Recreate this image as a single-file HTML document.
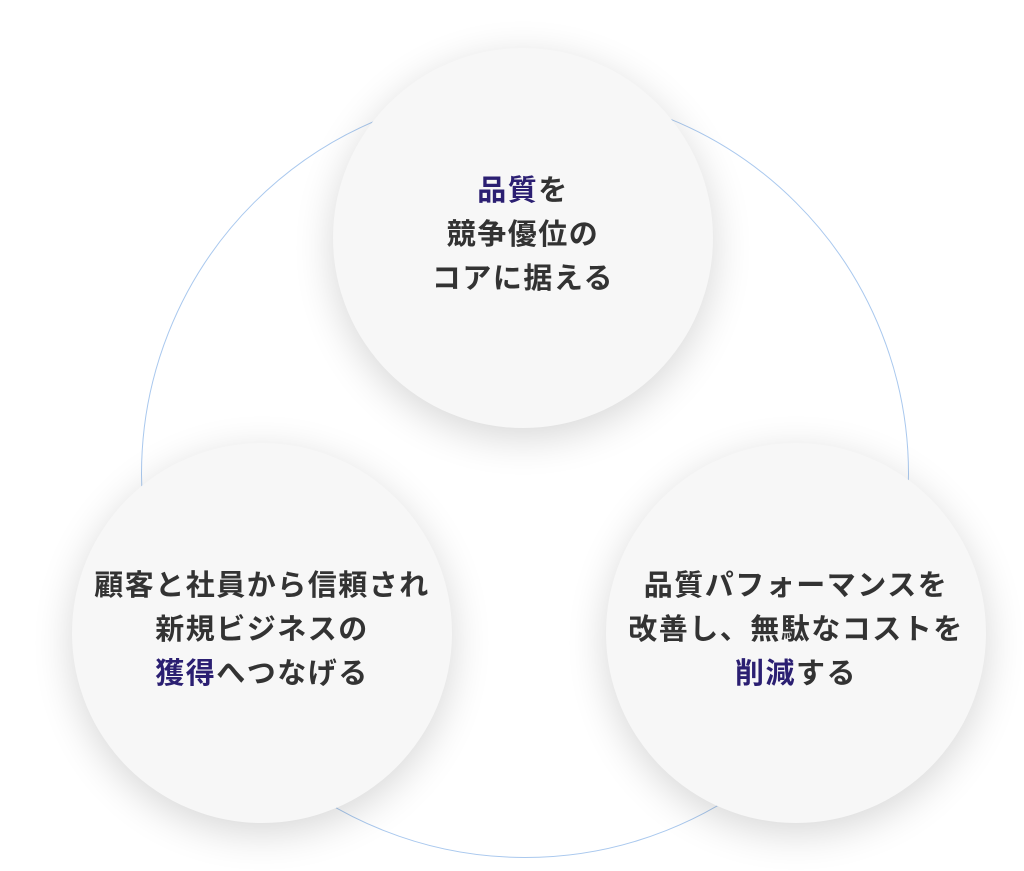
<!DOCTYPE html>
<html><head><meta charset="utf-8"><style>
html,body{margin:0;padding:0;background:#fff;}
body{width:1024px;height:871px;position:relative;overflow:hidden;font-family:"Liberation Sans","Noto Sans CJK JP",sans-serif;}
.ring{position:absolute;left:141px;top:90px;width:768px;height:768px;border:1px solid #a9c8ee;border-radius:50%;box-sizing:border-box;}
.c{position:absolute;width:380px;height:380px;border-radius:50%;background:#f7f7f7;box-shadow:0 10px 40px rgba(0,0,0,0.16);display:flex;align-items:center;justify-content:center;text-align:center;font-size:29px;font-weight:700;color:#333;line-height:44px;letter-spacing:1.5px;}
.c>div{margin-top:-6px;}
.h{color:#2b1f72;}
</style></head><body>
<div class="ring"></div>
<div class="c" style="left:333px;top:48px;"><div><span class="h">品質</span>を<br>競争優位の<br>コアに据える</div></div>
<div class="c" style="left:72px;top:443px;"><div>顧客と社員から信頼され<br>新規ビジネスの<br><span class="h">獲得</span>へつなげる</div></div>
<div class="c" style="left:606px;top:443px;"><div>品質パフォーマンスを<br>改善し、無駄なコストを<br><span class="h">削減</span>する</div></div>
</body></html>
